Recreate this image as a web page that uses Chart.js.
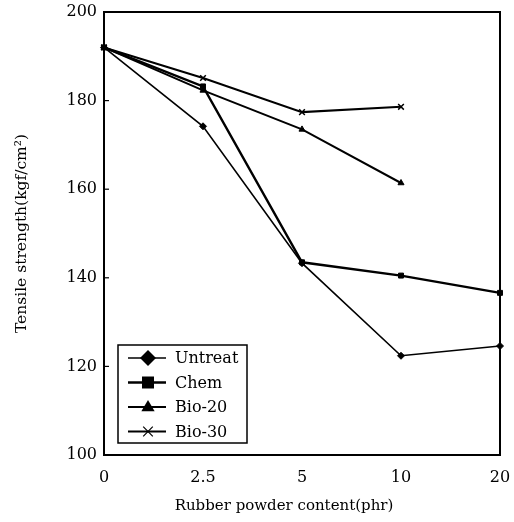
<!DOCTYPE html>
<html>
<head>
<meta charset="utf-8">
<script src="https://cdn.jsdelivr.net/npm/chart.js@4/dist/chart.umd.min.js"></script>
<style>
  body { margin: 0; background: #fff; }
  canvas { display: block; }
</style>
</head>
<body>
<canvas id="tensileChart" width="514" height="522"></canvas>
<script>
// Data
const contents = ['0', '2.5', '5', '10', '20'];
const untreat = [192, 174.2, 143.3, 122.4, 124.6];
const chem = [192, 183.2, 143.5, 140.5, 136.6];
const bio20 = [192, 182.3, 173.5, 161.4, null];
const bio30 = [192, 185.1, 177.4, 178.6, null];
const yTicks = [100, 120, 140, 160, 180, 200];

const serif = 'DejaVu Serif';
const xTitle = 'Rubber powder content(phr)';

// Draw a small marker (used by the legend box)
function drawMarker(ctx, style, x, y, r) {
    ctx.beginPath();
    if (style === 'rectRot') {
        ctx.moveTo(x, y - r);
        ctx.lineTo(x + r, y);
        ctx.lineTo(x, y + r);
        ctx.lineTo(x - r, y);
        ctx.closePath();
        ctx.fill();
    } else if (style === 'rect') {
        ctx.rect(x - r * 0.8, y - r * 0.8, r * 1.6, r * 1.6);
        ctx.fill();
    } else if (style === 'triangle') {
        ctx.moveTo(x, y - r);
        ctx.lineTo(x + r * 0.95, y + r * 0.6);
        ctx.lineTo(x - r * 0.95, y + r * 0.6);
        ctx.closePath();
        ctx.fill();
    } else {
        const d = r * 0.6;
        ctx.lineWidth = 1.2;
        ctx.moveTo(x - d, y - d); ctx.lineTo(x + d, y + d);
        ctx.moveTo(x + d, y - d); ctx.lineTo(x - d, y + d);
        ctx.stroke();
    }
}

// Frame, inward y ticks, x title and the boxed legend
const framePlugin = {
    id: 'frame',
    afterDraw(chart) {
        const ctx = chart.ctx;
        const area = chart.chartArea;
        const y = chart.scales.y;
        ctx.save();
        ctx.strokeStyle = '#000';
        ctx.lineWidth = 2;
        ctx.beginPath();
        ctx.moveTo(area.left, area.top);
        ctx.lineTo(area.right, area.top);
        ctx.lineTo(area.right, area.bottom);
        ctx.stroke();

        ctx.lineWidth = 1.2;
        y.ticks.forEach(t => {
            if (t.value === 100 || t.value === 200) return;
            const py = y.getPixelForValue(t.value);
            ctx.beginPath();
            ctx.moveTo(area.left, py);
            ctx.lineTo(area.left + 5, py);
            ctx.stroke();
        });

        // x axis title sits a little left of centre in the original
        ctx.fillStyle = '#000';
        ctx.font = '15px "' + serif + '"';
        ctx.textAlign = 'center';
        ctx.textBaseline = 'middle';
        ctx.fillText(xTitle, 284, 506);

        // legend
        const bx = 118, by = 345, bw = 129, bh = 98;
        ctx.fillStyle = '#fff';
        ctx.fillRect(bx, by, bw, bh);
        ctx.lineWidth = 1.5;
        ctx.strokeRect(bx, by, bw, bh);
        ctx.font = '16px "' + serif + '"';
        ctx.textAlign = 'left';
        ctx.fillStyle = '#000';
        chart.data.datasets.forEach((ds, i) => {
            const ly = by + 13 + i * 24.5;
            ctx.lineWidth = ds.borderWidth;
            ctx.beginPath();
            ctx.moveTo(128, ly);
            ctx.lineTo(166, ly);
            ctx.stroke();
            const sizes = [8, 7.5, 7, 8];
            drawMarker(ctx, ds.pointStyle, 148, ly, sizes[i]);
            ctx.fillText(ds.label, 175, ly + 1);
        });
        ctx.restore();
    }
};

function makeSet(label, data, style, width, radius) {
    return {
        label: label,
        data: data,
        borderColor: '#000',
        backgroundColor: '#000',
        borderWidth: width,
        pointStyle: style,
        pointRadius: radius,
        pointBorderWidth: style === 'crossRot' ? 1.5 : 1,
        tension: 0,
        spanGaps: false
    };
}

const ctx = document.getElementById('tensileChart').getContext('2d');
new Chart(ctx, {
    type: 'line',
    data: {
        labels: contents,
        datasets: [
            makeSet('Untreat', untreat, 'rectRot', 1.6, 3.5),
            makeSet('Chem', chem, 'rect', 2.4, 3.5),
            makeSet('Bio-20', bio20, 'triangle', 2, 3.5),
            makeSet('Bio-30', bio30, 'crossRot', 2, 4)
        ]
    },
    options: {
        responsive: false,
        devicePixelRatio: 1,
        animation: false,
        layout: { padding: { top: 12, right: 14, left: 0, bottom: 0 } },
        plugins: {
            legend: { display: false },
            tooltip: { enabled: false }
        },
        scales: {
            x: {
                type: 'category',
                offset: false,
                grid: { drawOnChartArea: false, drawTicks: false },
                border: { color: '#000', width: 2 },
                ticks: {
                    color: '#000',
                    padding: 13,
                    maxRotation: 0,
                    font: { family: serif, size: 16 }
                },
                afterFit(scale) {
                    scale.height = 67;
                    scale.paddingLeft = 0;
                    scale.paddingRight = 0;
                }
            },
            y: {
                min: 100,
                max: 200,
                afterBuildTicks(scale) {
                    scale.ticks = yTicks.map(v => ({ value: v }));
                },
                grid: { drawOnChartArea: false, drawTicks: false },
                border: { color: '#000', width: 2 },
                ticks: {
                    color: '#000',
                    padding: 7,
                    font: { family: serif, size: 16 }
                },
                title: {
                    display: true,
                    text: 'Tensile strength(kgf/cm²)',
                    color: '#000',
                    font: { family: serif, size: 15.5 },
                    padding: { top: 13, bottom: 0 }
                },
                afterFit(scale) {
                    scale.width = 104;
                    scale.paddingTop = 0;
                    scale.paddingBottom = 0;
                }
            }
        }
    },
    plugins: [framePlugin]
});
</script>
</body>
</html>
